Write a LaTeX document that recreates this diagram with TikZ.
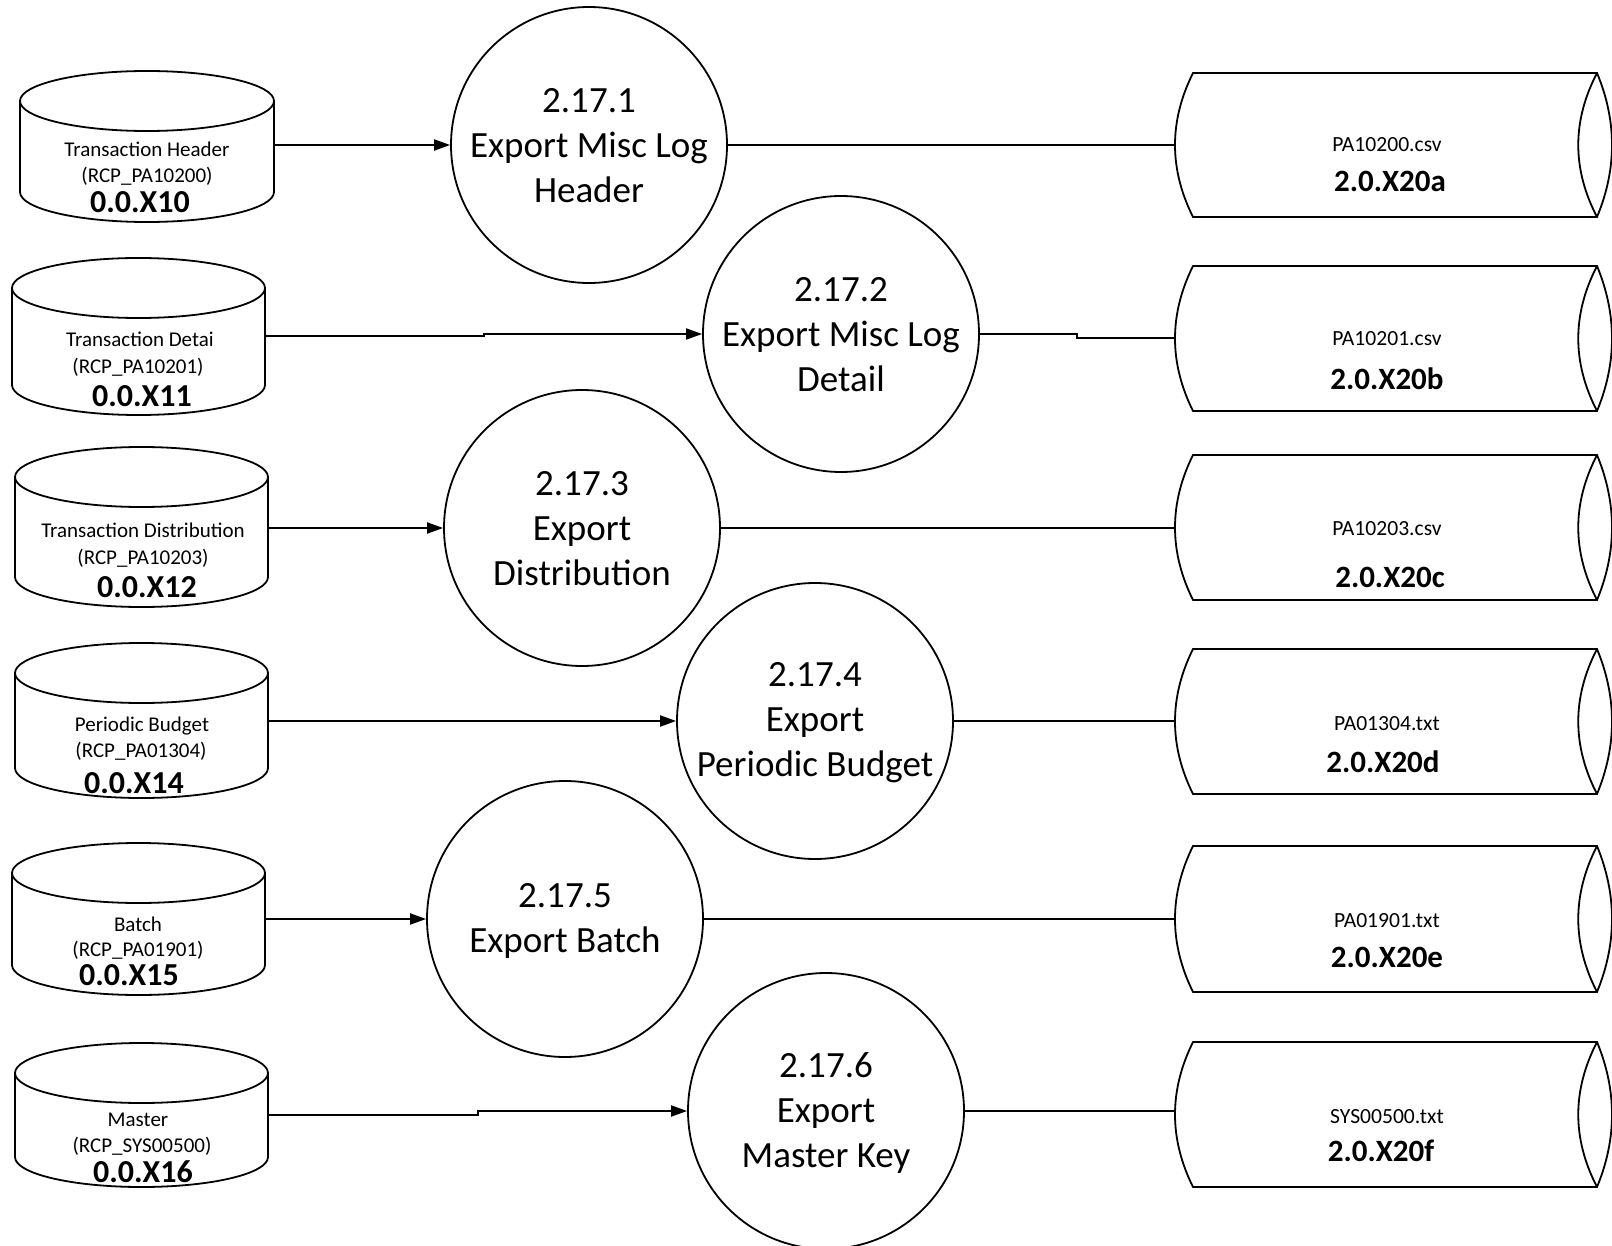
\documentclass[tikz,border=0pt]{standalone}
\usepackage{fontspec}
\setmainfont{Carlito}
\usetikzlibrary{arrows.meta,fit}
\tikzset{
 shp/.style={draw=black, line width=0.9pt},
 proc/.style={circle, draw=black, line width=0.9pt, minimum size=138pt, inner sep=0pt},
 ptext/.style={align=center, inner sep=0pt, font=\fontsize{18.5}{22.5}\selectfont},
 flow/.style={draw=black, line width=1pt},
 arr/.style={flow, -{Triangle[length=8pt,width=5.5pt]}},
 dblab/.style={anchor=base, inner sep=0pt, font=\fontsize{10.5}{12}\selectfont},
 dbid/.style={anchor=base, inner sep=0pt, font=\bfseries\fontsize{16}{18}\selectfont},
 fname/.style={anchor=base, inner sep=0pt, font=\fontsize{10.8}{13}\selectfont},
 fid/.style={anchor=base, inner sep=0pt, font=\bfseries\fontsize{15.5}{18}\selectfont},
}
% database cylinder: name, x left, x right, y top, y bottom
\newcommand\dbcyl[5]{%
  \pgfmathsetmacro\cylcx{(#2+#3)/2}%
  \pgfmathsetmacro\cylrx{(#3-#2)/2}%
  \draw[shp] (\cylcx,{#4+30}) ellipse [x radius=\cylrx, y radius=30];
  \draw[shp] (#2,{#4+30}) -- (#2,{#5-30}) arc[start angle=180, end angle=0, x radius=\cylrx, y radius=30] -- (#3,{#4+30});
  \node[fit={(#2,#4) (#3,#5)}, inner sep=0pt] (#1) {};
}
% file store: name, y top, y bottom
\newcommand\filestore[3]{%
  \pgfmathsetmacro\fsh{(#3-#2)/3}%
  \draw[shp] (1193,#2) -- (1597,#2) .. controls (1617,{#2+\fsh}) and (1617,{#3-\fsh}) .. (1597,#3) -- (1193,#3) .. controls (1169,{#3-\fsh}) and (1169,{#2+\fsh}) .. (1193,#2) -- cycle;
  \draw[shp] (1597,#2) .. controls (1572,{#2+\fsh}) and (1572,{#3-\fsh}) .. (1597,#3);
  \node[fit={(1175,#2) (1612,#3)}, inner sep=0pt] (#1) {};
}
\begin{document}
\begin{tikzpicture}[x=0.5pt, y=-0.5pt]
\useasboundingbox (0,0) rectangle (1612,1246);

% data stores (left)
\dbcyl{c1}{20}{274}{71}{222}
\node[dblab] (c1a) at (147,157) {Transaction Header};
\node[dblab] (c1b) at (147,183) {(RCP\_PA10200)};
\node[dbid]  (c1c) at (140,213) {0.0.X10};

\dbcyl{c2}{12}{265}{258}{415}
\node[dblab] (c2a) at (140,347) {Transaction Detai};
\node[dblab] (c2b) at (138,373) {(RCP\_PA10201)};
\node[dbid]  (c2c) at (142,406) {0.0.X11};

\dbcyl{c3}{15}{268}{447}{607}
\node[dblab] (c3a) at (143,537) {Transaction Distribution};
\node[dblab] (c3b) at (143,564) {(RCP\_PA10203)};
\node[dbid]  (c3c) at (147,597) {0.0.X12};

\dbcyl{c4}{15}{268}{643}{798}
\node[dblab] (c4a) at (142,731) {Periodic Budget};
\node[dblab] (c4b) at (141,757) {(RCP\_PA01304)};
\node[dbid]  (c4c) at (134,793) {0.0.X14};

\dbcyl{c5}{12}{265}{843}{995}
\node[dblab] (c5a) at (138,931) {Batch};
\node[dblab] (c5b) at (138,956) {(RCP\_PA01901)};
\node[dbid]  (c5c) at (129,985) {0.0.X15};

\dbcyl{c6}{15}{268}{1043}{1187}
\node[dblab] (c6a) at (138,1126) {Master};
\node[dblab] (c6b) at (142,1152) {(RCP\_SYS00500)};
\node[dbid]  (c6c) at (143,1182) {0.0.X16};

% processes
\node[proc] (p1) at (589,145) {};
\node[ptext] (p1t) at ([yshift=-0.5pt]p1) {2.17.1\\Export Misc Log\\Header};
\node[proc] (p2) at (841,334) {};
\node[ptext] (p2t) at ([yshift=-0.5pt]p2) {2.17.2\\Export Misc Log\\Detail};
\node[proc] (p3) at (582,528) {};
\node[ptext] (p3t) at ([yshift=-0.5pt]p3) {2.17.3\\Export\\Distribution};
\node[proc] (p4) at (815,721) {};
\node[ptext] (p4t) at ([yshift=-1pt]p4) {2.17.4\\Export\\Periodic Budget};
\node[proc] (p5) at (565,919) {};
\node[ptext] (p5t) at ([yshift=-1pt]p5) {2.17.5\\Export Batch};
\node[proc] (p6) at (826,1111) {};
\node[ptext] (p6t) at ([yshift=-1pt]p6) {2.17.6\\Export\\Master Key};

% file stores (right)
\filestore{f1}{73}{217}
\node[fname] (f1a) at (1387,152) {PA10200.csv};
\node[fid]   (f1b) at (1390,192) {2.0.X20a};
\filestore{f2}{266}{411}
\node[fname] (f2a) at (1387,345) {PA10201.csv};
\node[fid]   (f2b) at (1387,389) {2.0.X20b};
\filestore{f3}{455}{600}
\node[fname] (f3a) at (1387,535) {PA10203.csv};
\node[fid]   (f3b) at (1390,587) {2.0.X20c};
\filestore{f4}{649}{794}
\node[fname] (f4a) at (1387,730) {PA01304.txt};
\node[fid]   (f4b) at (1383,772) {2.0.X20d};
\filestore{f5}{846}{992}
\node[fname] (f5a) at (1387,927) {PA01901.txt};
\node[fid]   (f5b) at (1387,967) {2.0.X20e};
\filestore{f6}{1042}{1187}
\node[fname] (f6a) at (1387,1123) {SYS00500.txt};
\node[fid]   (f6b) at (1381,1161) {2.0.X20f};

% bend points
\coordinate (b2) at (484,0);
\coordinate (b2o) at (1077,0);
\coordinate (b6) at (478,0);

% connectors
\draw[arr] (c1.east |- p1.west) -- (p1.west);
\draw[flow] (p1.east) -- (p1.east -| f1.west);

\draw[arr] (c2.east) -- (c2.east -| b2) |- (p2.west);
\draw[flow] (p2.east) -- (p2.east -| b2o) |- (f2.west);

\draw[arr] (c3.east |- p3.west) -- (p3.west);
\draw[flow] (p3.east) -- (p3.east -| f3.west);

\draw[arr] (c4.east |- p4.west) -- (p4.west);
\draw[flow] (p4.east) -- (p4.east -| f4.west);

\draw[arr] (c5.east |- p5.west) -- (p5.west);
\draw[flow] (p5.east) -- (p5.east -| f5.west);

\draw[arr] (c6.east) -- (c6.east -| b6) |- (p6.west);
\draw[flow] (p6.east) -- (p6.east -| f6.west);
\end{tikzpicture}
\end{document}
